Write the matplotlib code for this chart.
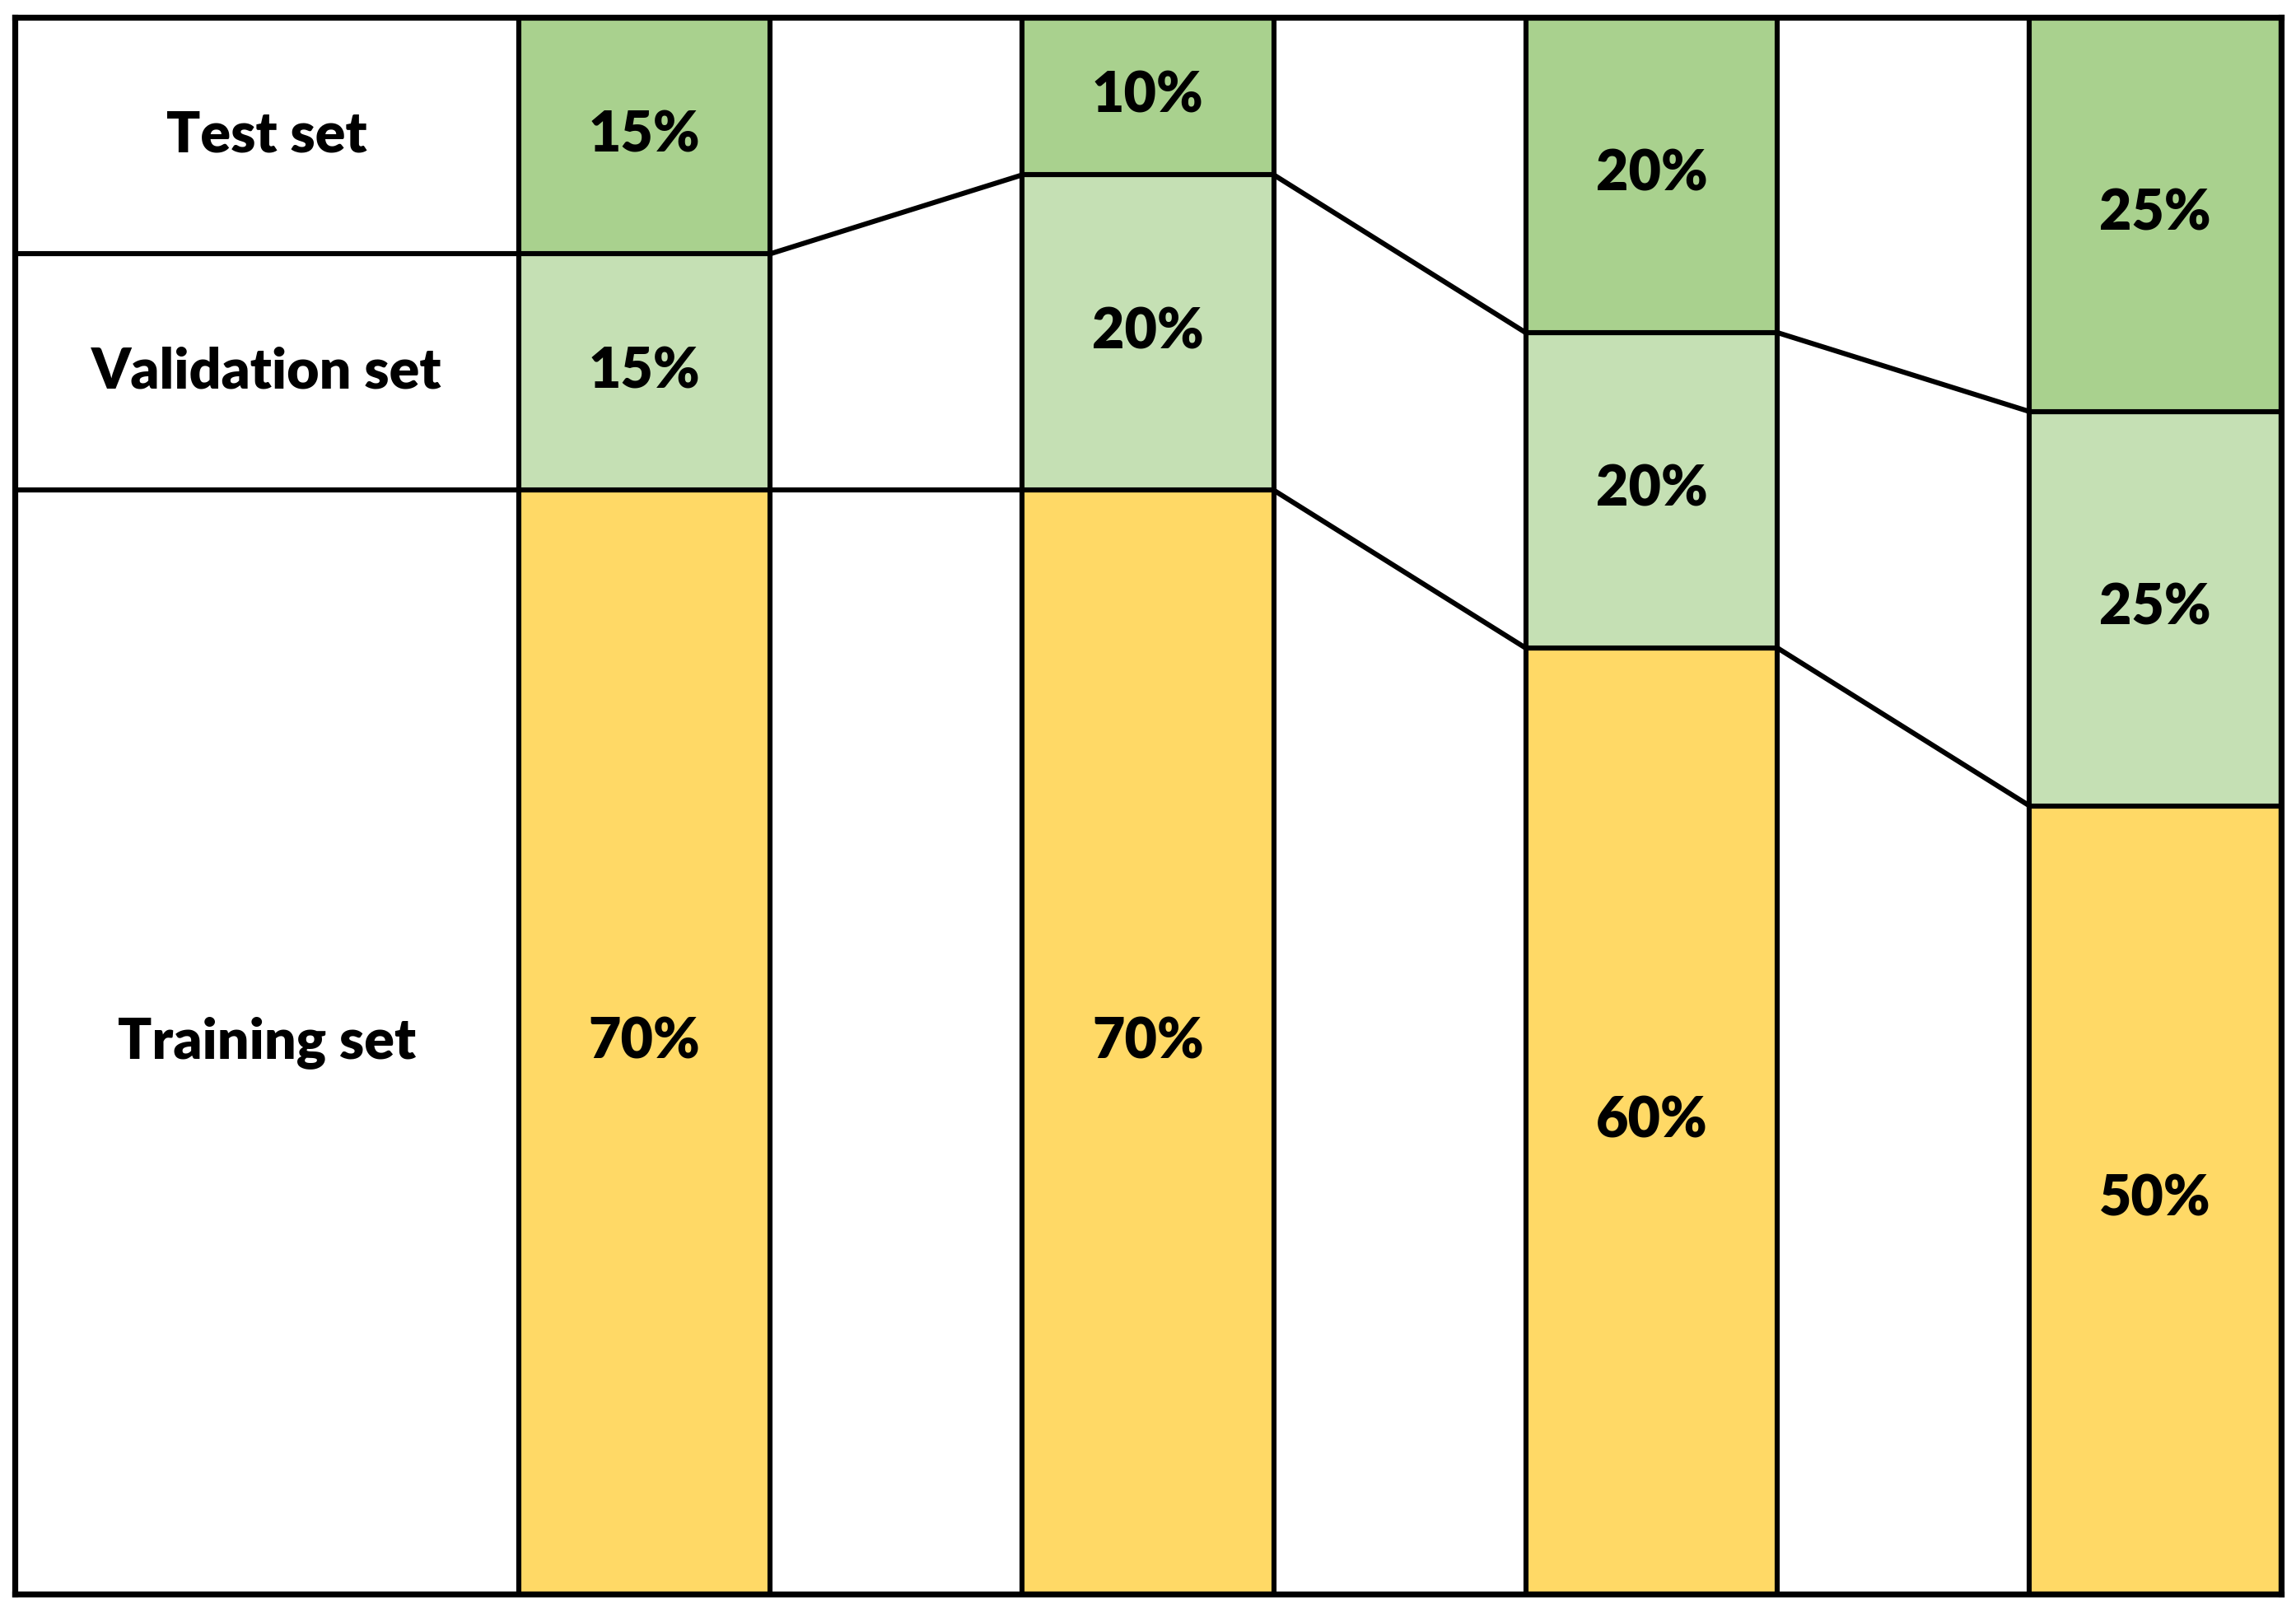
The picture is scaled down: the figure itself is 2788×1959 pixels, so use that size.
import numpy as np
import matplotlib
matplotlib.use('Agg')
import matplotlib.pyplot as plt

# data: percentage splits for four scenarios
rowLabels = ['Training set', 'Validation set', 'Test set']
train = [70, 70, 60, 50]
val = [15, 20, 20, 25]
test = [15, 10, 20, 25]

colors = ['#FFD966', '#C5E0B4', '#A9D18E']
edge = 'black'
lw = 2.2
fontKw = dict(family=['Lato', 'DejaVu Sans'], fontweight='heavy', fontsize=24.5, ha='center', va='center')

fig = plt.figure(figsize=(13.94, 9.795), dpi=200)
ax = fig.add_axes([0.0065, 0.0117, 0.9870, 0.9776])

series = [train, val, test]
n = len(train)
xpos = 2.5 + 2 * np.arange(n)
barWidth = 1.0

# label column, sized like the first split
bottom = 0
for k, s in enumerate(series):
  ax.bar(1, s[0], 2, bottom=bottom, color='white', edgecolor=edge, linewidth=lw, zorder=2)
  ax.text(1, bottom + s[0] / 2., rowLabels[k], **fontKw)
  bottom += s[0]

# stacked bars
bottoms = np.zeros(n)
tops = []
for k, s in enumerate(series):
  vals = np.array(s, dtype=float)
  ax.bar(xpos, vals, barWidth, bottom=bottoms, color=colors[k], edgecolor=edge, linewidth=lw, zorder=2)
  for i in range(n):
    ax.text(xpos[i], bottoms[i] + vals[i] / 2., '%d%%' % vals[i], **fontKw)
  bottoms = bottoms + vals
  tops.append(bottoms.copy())

# series lines between neighbouring bars
for t in tops:
  for i in range(n - 1):
    ax.plot([xpos[i] + barWidth / 2., xpos[i + 1] - barWidth / 2.], [t[i], t[i + 1]],
            color=edge, linewidth=lw, zorder=1, solid_capstyle='butt')

ax.set_xlim(0, 2 * n + 1)
ax.set_ylim(0, 100)
ax.set_xticks([])
ax.set_yticks([])
for sp in ax.spines.values():
  sp.set_linewidth(2.6)
  sp.set_zorder(5)

plt.savefig('out.png', dpi=200)
